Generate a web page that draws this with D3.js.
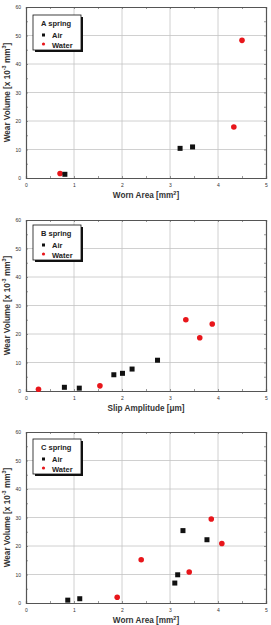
<!DOCTYPE html>
<html>
<head>
<meta charset="utf-8">
<script src="https://cdn.jsdelivr.net/npm/d3@7"></script>
<style>
  body { margin: 0; background: #fff; }
  svg { display: block; font-family: "Liberation Sans", Arial, sans-serif; }
</style>
</head>
<body>
<div id="chart"></div>
<script>
// tick labels
const xTicks = [0, 1, 2, 3, 4, 5]
const yTicks = [0, 10, 20, 30, 40, 50, 60]

// A spring : worn area vs wear volume
const aAir = [[0.81, 1.3], [3.21, 10.4], [3.47, 10.9]]
const aWater = [[0.71, 1.6], [4.33, 17.9], [4.5, 48.3]]

// B spring : slip amplitude vs wear volume
const bAir = [[0.8, 1.3], [1.11, 1.0], [1.83, 5.7], [2.01, 6.2], [2.21, 7.7], [2.74, 10.8]]
const bWater = [[0.26, 0.6], [1.54, 1.8], [3.33, 25.0], [3.62, 18.7], [3.88, 23.5]]

// C spring : worn area vs wear volume
const cAir = [[0.87, 1.0], [1.12, 1.5], [3.1, 7.0], [3.16, 9.9], [3.27, 25.4], [3.77, 22.2]]
const cWater = [[1.9, 2.0], [2.4, 15.2], [3.4, 10.9], [3.86, 29.5], [4.08, 20.9]]

const panels = [
  { name: 'A spring', air: aAir, water: aWater, xlabel: 'Worn Area [mm', sup: '2', tail: ']', top: 7, bottom: 178, leg: 15 },
  { name: 'B spring', air: bAir, water: bWater, xlabel: 'Slip Amplitude [\u03bcm]', sup: null, tail: '', top: 220, bottom: 391, leg: 225 },
  { name: 'C spring', air: cAir, water: cWater, xlabel: 'Worn Area [mm', sup: '2', tail: ']', top: 432, bottom: 603, leg: 439 }
]

const width = 271, height = 625
const left = 26, right = 266

const svg = d3.select('#chart').append('svg')
  .attr('width', width)
  .attr('height', height)

const x = d3.scaleLinear().domain([0, 5]).range([left, right])

panels.forEach(p => {
  const y = d3.scaleLinear().domain([0, 60]).range([p.bottom, p.top])
  const g = svg.append('g')

  // grid
  g.append('g').selectAll('line')
    .data(xTicks.slice(1, -1))
    .enter().append('line')
      .attr('x1', d => x(d)).attr('x2', d => x(d))
      .attr('y1', p.top).attr('y2', p.bottom)
      .attr('stroke', '#c4c4c4').attr('stroke-width', 0.8)
  g.append('g').selectAll('line')
    .data(yTicks.slice(1, -1))
    .enter().append('line')
      .attr('x1', left).attr('x2', right)
      .attr('y1', d => y(d)).attr('y2', d => y(d))
      .attr('stroke', '#c4c4c4').attr('stroke-width', 0.8)

  // axes, ticks pointing inward
  g.append('g')
    .attr('transform', `translate(0, ${p.bottom})`)
    .call(d3.axisBottom(x).tickValues(d3.range(0, 5.01, 0.5)).tickSize(-2).tickPadding(5)
      .tickFormat(d => Number.isInteger(d) ? d : ''))
    .call(thinAxis)
  g.append('g')
    .attr('transform', `translate(0, ${p.top})`)
    .call(d3.axisTop(x).tickValues(d3.range(0, 5.01, 0.5)).tickSize(-2).tickFormat(''))
    .call(thinAxis)
  g.append('g')
    .attr('transform', `translate(${left}, 0)`)
    .call(d3.axisLeft(y).tickValues(d3.range(0, 60.1, 5)).tickSize(-2).tickPadding(5)
      .tickFormat(d => d % 10 === 0 ? d : ''))
    .call(thinAxis)
  g.append('g')
    .attr('transform', `translate(${right}, 0)`)
    .call(d3.axisRight(y).tickValues(d3.range(0, 60.1, 5)).tickSize(-2).tickFormat(''))
    .call(thinAxis)

  // axis titles
  const xl = g.append('text')
    .attr('x', (left + right) / 2)
    .attr('y', p.bottom + 20)
    .attr('text-anchor', 'middle')
    .attr('font-size', 8.2).attr('font-weight', 'bold').attr('fill', '#333')
  xl.append('tspan').text(p.xlabel)
  if (p.sup) {
    xl.append('tspan').attr('font-size', 5.5).attr('dy', -3.5).text(p.sup)
    xl.append('tspan').attr('dy', 3.5).text(p.tail)
  }

  const yt = g.append('text')
    .attr('transform', `translate(9.5, ${(p.top + p.bottom) / 2}) rotate(-90)`)
    .attr('text-anchor', 'middle')
    .attr('font-size', 8.2).attr('font-weight', 'bold').attr('fill', '#333')
  yt.append('tspan').text('Wear Volume [x 10')
  yt.append('tspan').attr('font-size', 5.5).attr('dy', -3.5).text('-3')
  yt.append('tspan').attr('dy', 3.5).text(' mm')
  yt.append('tspan').attr('font-size', 5.5).attr('dy', -3.5).text('3')
  yt.append('tspan').attr('dy', 3.5).text(']')

  // points
  g.append('g').selectAll('circle')
    .data(p.water)
    .enter().append('circle')
      .attr('cx', d => x(d[0]))
      .attr('cy', d => y(d[1]))
      .attr('r', 2.8)
      .attr('fill', '#e8161b')
  g.append('g').selectAll('rect')
    .data(p.air)
    .enter().append('rect')
      .attr('x', d => x(d[0]) - 2.5)
      .attr('y', d => y(d[1]) - 2.5)
      .attr('width', 5).attr('height', 5)
      .attr('fill', '#111')

  // legend with shadow
  const lx = 33, ly = p.leg, lw = 48, lh = 35
  g.append('rect').attr('x', lx + 2).attr('y', ly + 2).attr('width', lw).attr('height', lh).attr('fill', '#111')
  g.append('rect').attr('x', lx).attr('y', ly).attr('width', lw).attr('height', lh)
    .attr('fill', '#fff').attr('stroke', '#111').attr('stroke-width', 0.8)
  g.append('text').attr('x', lx + 8).attr('y', ly + 11)
    .attr('font-size', 7.5).attr('font-weight', 'bold').attr('fill', '#222').text(p.name)
  g.append('rect').attr('x', lx + 9).attr('y', ly + 18.5).attr('width', 3).attr('height', 3).attr('fill', '#111')
  g.append('text').attr('x', lx + 19).attr('y', ly + 22.5)
    .attr('font-size', 7.5).attr('font-weight', 'bold').attr('fill', '#222').text('Air')
  g.append('circle').attr('cx', lx + 10.5).attr('cy', ly + 29).attr('r', 1.6).attr('fill', '#e8161b')
  g.append('text').attr('x', lx + 19).attr('y', ly + 32.5)
    .attr('font-size', 7.5).attr('font-weight', 'bold').attr('fill', '#222').text('Water')
})

function thinAxis (g) {
  g.selectAll('.domain').attr('stroke', '#555').attr('stroke-width', 1.2)
  g.selectAll('.tick line').attr('stroke', '#555').attr('stroke-width', 0.6)
  g.selectAll('.tick text').attr('font-size', 5).attr('fill', '#333')
}
</script>
</body>
</html>
